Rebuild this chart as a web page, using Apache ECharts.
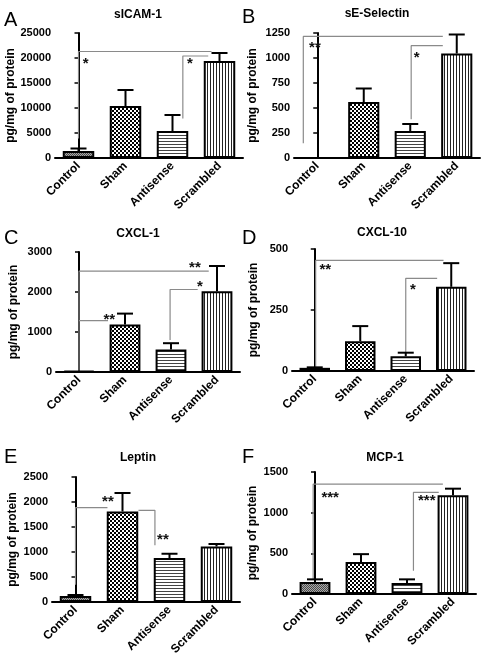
<!DOCTYPE html>
<html><head><meta charset="utf-8">
<script src="https://cdn.jsdelivr.net/npm/echarts@6/dist/echarts.min.js"></script>
<style>html,body{margin:0;padding:0;background:#fff}#c{width:481px;height:666px}</style>
</head><body><div id="c"></div>
<script>
// ---------- data ----------
const categories = ['Control', 'Sham', 'Antisense', 'Scrambled'];
const panelLetters = ['A', 'B', 'C', 'D', 'E', 'F'];
const panelTitles = ['sICAM-1', 'sE-Selectin', 'CXCL-1', 'CXCL-10', 'Leptin', 'MCP-1'];
const yAxisName = 'pg/mg of protein';
const yMax = [25000, 1250, 3000, 500, 2500, 1500];
const yStep = [5000, 250, 1000, 250, 500, 500];

const sicamMean = [1400, 10400, 5400, 19400];
const sicamErr = [1900, 13600, 8600, 21000];
const selectinMean = [0, 560, 270, 1045];
const selectinErr = [0, 695, 340, 1235];
const cxcl1Mean = [30, 1190, 560, 2020];
const cxcl1Err = [30, 1460, 720, 2650];
const cxcl10Mean = [13, 122, 60, 345];
const cxcl10Err = [15, 184, 75, 442];
const leptinMean = [120, 1810, 880, 1110];
const leptinErr = [140, 2180, 965, 1160];
const mcpMean = [148, 393, 135, 1213];
const mcpErr = [180, 490, 180, 1295];

// significance brackets: [category position, value] points
const sicamBrackets = [[[0, 3900], [0, 21300], [2.83, 21300]], [[2.76, 20400], [2.22, 20400], [2.22, 7900]]];
const selectinBrackets = [[[-0.3, 147], [-0.3, 1216], [2.7, 1216]], [[2.7, 1123], [2.02, 1123], [2.02, 388]]];
const cxcl1Brackets = [[[0, 40], [0, 2520], [2.82, 2520]], [[0, 1284], [0.63, 1284]], [[2.58, 2063], [1.98, 2063], [1.98, 800]]];
const cxcl10Brackets = [[[0.02, 16], [0.02, 453], [2.83, 453]], [[2.69, 380], [2.0, 380], [2.0, 78]]];
const leptinBrackets = [[[0, 347], [0, 1887], [0.68, 1887]], [[1.34, 1833], [1.69, 1833], [1.69, 1133]]];
const mcpBrackets = [[[-0.04, 176], [-0.04, 1352], [2.78, 1352]], [[2.69, 1250], [2.14, 1250], [2.14, 287]]];

// significance stars: [text, category position, value]
const sicamStars = [['*', 0.15, 19400], ['*', 2.37, 19400]];
const selectinStars = [['**', -0.05, 1132], ['*', 2.14, 1032]];
const cxcl1Stars = [['**', 2.52, 2668], ['**', 0.66, 1384], ['*', 2.63, 2213]];
const cxcl10Stars = [['**', 0.23, 428], ['*', 2.16, 346]];
const leptinStars = [['**', 0.69, 2067], ['**', 1.86, 1300]];
const mcpStars = [['***', 0.33, 1221], ['***', 2.43, 1180]];

const means = [sicamMean, selectinMean, cxcl1Mean, cxcl10Mean, leptinMean, mcpMean];
const errs = [sicamErr, selectinErr, cxcl1Err, cxcl10Err, leptinErr, mcpErr];
const brackets = [sicamBrackets, selectinBrackets, cxcl1Brackets, cxcl10Brackets, leptinBrackets, mcpBrackets];
const stars = [sicamStars, selectinStars, cxcl1Stars, cxcl10Stars, leptinStars, mcpStars];

// ---------- layout / style ----------
const layout = [
  { left: 55, top: 33, width: 188, height: 125, gap: 34, title: [138, 15], letter: [4, 20] },
  { left: 294, top: 33, width: 186, height: 125, gap: 35, title: [377, 14], letter: [242, 17] },
  { left: 56, top: 252, width: 184, height: 120, gap: 36, title: [138, 234], letter: [4, 238] },
  { left: 292, top: 249, width: 182, height: 122, gap: 32, title: [382, 233], letter: [242, 238] },
  { left: 52, top: 477, width: 188, height: 125, gap: 33, title: [138, 458], letter: [4, 457] },
  { left: 292, top: 472, width: 184, height: 122, gap: 33, title: [385, 458], letter: [242, 457] }
];
const FONT = 'Liberation Sans, Arial, sans-serif';

function makePattern(w, h, draw) {
  const c = document.createElement('canvas');
  c.width = w; c.height = h;
  const g = c.getContext('2d');
  draw(g);
  return { image: c, repeat: 'repeat' };
}
const patterns = [
  makePattern(2, 2, g => { g.fillStyle = '#a8a8a8'; g.fillRect(0, 0, 2, 2); g.fillStyle = '#4a4a4a'; g.fillRect(0, 0, 1, 1); g.fillRect(1, 1, 1, 1); }),
  makePattern(4, 4, g => { g.fillStyle = '#000'; g.fillRect(0, 0, 4, 4); g.fillStyle = '#fff'; g.fillRect(0, 0, 2, 2); g.fillRect(2, 2, 2, 2); }),
  makePattern(1, 3, g => { g.fillStyle = '#fff'; g.fillRect(0, 0, 1, 3); g.fillStyle = '#444'; g.fillRect(0, 0, 1, 1); }),
  makePattern(3, 1, g => { g.fillStyle = '#fff'; g.fillRect(0, 0, 3, 1); g.fillStyle = '#222'; g.fillRect(0, 0, 1, 1); })
];

const grid = [], xAxis = [], yAxis = [], series = [], graphic = [];
layout.forEach((L, i) => {
  grid.push({ left: L.left, top: L.top, width: L.width, height: L.height });
  xAxis.push({
    type: 'category', gridIndex: i, data: categories,
    axisLine: { lineStyle: { color: '#000', width: 2 } },
    axisTick: { alignWithLabel: true, length: 4, lineStyle: { color: '#000', width: 1.5 } },
    axisLabel: { interval: 0, rotate: 45, margin: 6, color: '#000', fontFamily: FONT, fontWeight: 'bold', fontSize: 12 }
  });
  xAxis.push({ type: 'value', gridIndex: i, min: -0.5, max: 3.5, show: false });
  yAxis.push({
    type: 'value', gridIndex: i, min: 0, max: yMax[i], interval: yStep[i],
    name: yAxisName, nameLocation: 'middle', nameGap: L.gap,
    nameTextStyle: { color: '#000', fontFamily: FONT, fontWeight: 'bold', fontSize: 12 },
    axisLine: { show: true, lineStyle: { color: '#000', width: 2 } },
    axisTick: { show: true, length: 4, lineStyle: { color: '#000', width: 1.5 } },
    axisLabel: { margin: 4, color: '#000', fontFamily: FONT, fontWeight: 'bold', fontSize: 11, formatter: v => String(v) },
    splitLine: { show: false }
  });
  series.push({
    type: 'bar', xAxisIndex: 2 * i, yAxisIndex: i, barWidth: '67%', silent: true,
    data: means[i].map((v, k) => ({ value: v, itemStyle: { color: patterns[k], borderColor: '#000', borderWidth: 2 } }))
  });
  series.push({
    type: 'custom', xAxisIndex: 2 * i, yAxisIndex: i, silent: true, z: 5,
    data: means[i].map((v, k) => [k, v, errs[i][k]]),
    encode: { x: 0, y: 1 },
    renderItem: (params, api) => {
      const m = api.value(1), e = api.value(2);
      if (!(e > m)) return null;
      const a = api.coord([api.value(0), m]), b = api.coord([api.value(0), e]);
      return { type: 'group', children: [
        { type: 'line', shape: { x1: a[0], y1: a[1], x2: b[0], y2: b[1] }, style: { stroke: '#000', lineWidth: 2 } },
        { type: 'line', shape: { x1: b[0] - 8, y1: b[1], x2: b[0] + 8, y2: b[1] }, style: { stroke: '#000', lineWidth: 2 } }
      ] };
    }
  });
  brackets[i].forEach(br => {
    series.push({
      type: 'line', xAxisIndex: 2 * i + 1, yAxisIndex: i, data: br, symbol: 'none', silent: true, z: 4,
      lineStyle: { color: '#8a8a8a', width: 1.2 }
    });
  });
  series.push({
    type: 'custom', xAxisIndex: 2 * i + 1, yAxisIndex: i, silent: true, z: 6,
    data: stars[i].map(s => [s[1], s[2], s[0]]),
    encode: { x: 0, y: 1 },
    renderItem: (params, api) => {
      const p = api.coord([api.value(0), api.value(1)]);
      return { type: 'text', x: p[0], y: p[1] + 3,
        style: { text: stars[i][params.dataIndex][0], font: 'bold 15px ' + FONT, fill: '#111', align: 'center', verticalAlign: 'middle' } };
    }
  });
  graphic.push({ type: 'text', x: L.title[0], y: L.title[1], silent: true,
    style: { text: panelTitles[i], font: 'bold 12px ' + FONT, fill: '#000', align: 'center', verticalAlign: 'middle' } });
  graphic.push({ type: 'text', x: L.letter[0], y: L.letter[1], silent: true,
    style: { text: panelLetters[i], font: '20px ' + FONT, fill: '#000', align: 'left', verticalAlign: 'middle' } });
});

const chart = echarts.init(document.getElementById('c'), null, { renderer: 'canvas' });
chart.setOption({ animation: false, backgroundColor: '#fff', grid, xAxis, yAxis, series, graphic });
</script></body></html>
